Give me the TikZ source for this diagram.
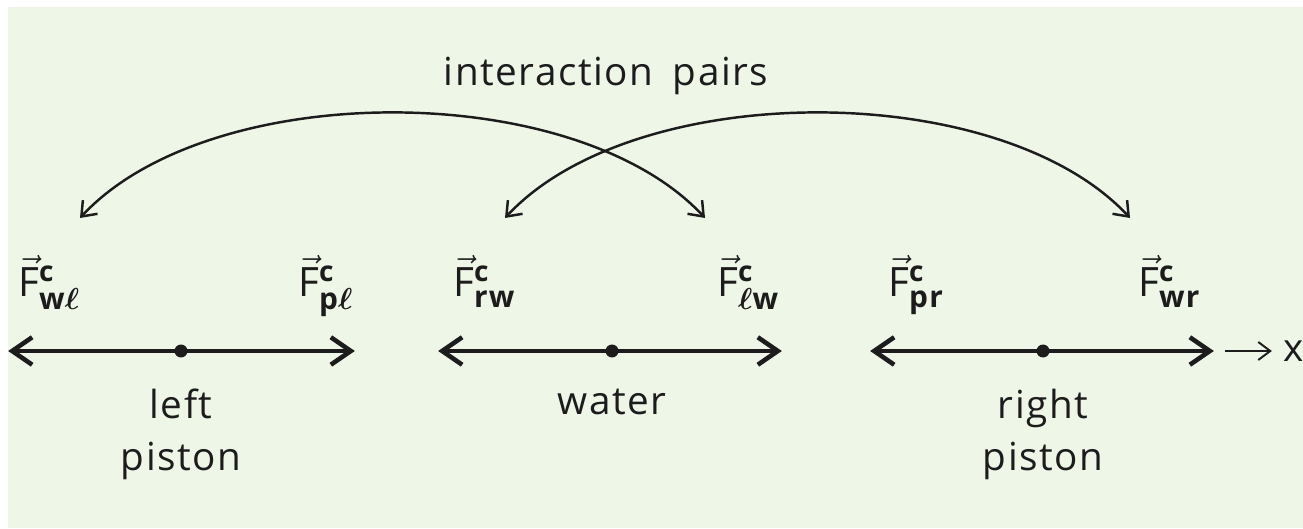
\documentclass[tikz,border=0pt]{standalone}
\usepackage{amsmath}
\usepackage{fontspec}
\setmainfont{Open Sans}[LetterSpace=4]
\setsansfont{Open Sans}[LetterSpace=4]
\usetikzlibrary{arrows.meta,positioning}
\definecolor{palegreen}{RGB}{238,246,231}
\definecolor{inkgray}{RGB}{28,28,28}
\tikzset{
  force/.style={
    -{Straight Barb[length=4mm,width=5.5mm]},
    line width=2.6pt,
    inkgray
  },
  pair/.style={
    {Straight Barb[length=2.6mm,width=4mm]}-{Straight Barb[length=2.6mm,width=4mm]},
    line width=1.4pt,
    inkgray
  },
  axis/.style={
    -{Straight Barb[length=2.4mm,width=3.6mm]},
    line width=1.1pt,
    inkgray
  },
  dot/.style={
    circle,
    fill=inkgray,
    inner sep=0pt,
    minimum size=2.6mm
  },
  flabel/.style={
    anchor=base west,
    inner sep=0pt,
    text=inkgray,
    font=\fontsize{23}{26}\selectfont
  },
  bodyname/.style={
    align=center,
    text=inkgray,
    inner sep=0pt,
    font=\fontsize{22}{29.5}\selectfont
  }
}
\newcommand{\forcevec}[1]{$\vec{\mathsf{F}}^{\mbox{\fontsize{16}{16}\selectfont\bfseries c}}_{\mbox{\fontsize{17}{17}\selectfont\bfseries #1}}$}
\newcommand{\bell}{$\boldsymbol{\ell}$}

\begin{document}
\begin{tikzpicture}[node distance=1.2cm]
\useasboundingbox (0,0) rectangle (26.06,10.56);
\fill[palegreen] (0.16,0) rectangle (26.06,10.42);
% centres of the three bodies
\node[dot] (lp) at (3.62,3.54) {};
\node[dot] (wa) at (12.24,3.54) {};
\node[dot] (rp) at (20.86,3.54) {};
\coordinate[left=3.32cm of lp] (lpl);
\coordinate[right=3.34cm of lp] (lpr);
\coordinate[left=3.34cm of wa] (wal);
\coordinate[right=3.26cm of wa] (war);
\coordinate[left=3.32cm of rp] (rpl);
\coordinate[right=3.28cm of rp] (rpr);
\draw[force] (lp.center) -- (lpl);
\draw[force] (lp.center) -- (lpr);
\draw[force] (wa.center) -- (wal);
\draw[force] (wa.center) -- (war);
\draw[force] (rp.center) -- (rpl);
\draw[force] (rp.center) -- (rpr);
% x axis
\coordinate[right=0.22cm of rpr] (xs);
\coordinate[right=1.16cm of rpr] (xe);
\draw[axis] (xs) -- (xe);
\node[text=inkgray,font=\fontsize{22}{26}\selectfont,right=0.1cm of xe] (xlab) {x};
% force labels
\node[flabel] (Fwl) at (0.36,4.62) {\forcevec{w\bell}};
\node[flabel] (Fpl) at (5.96,4.62) {\forcevec{p\bell}};
\node[flabel] (Frw) at (9.06,4.62) {\forcevec{rw}};
\node[flabel] (Flw) at (14.34,4.62) {\forcevec{\bell w}};
\node[flabel] (Fpr) at (17.76,4.62) {\forcevec{pr}};
\node[flabel] (Fwr) at (22.76,4.62) {\forcevec{wr}};
% body names
\node[bodyname,below=0.62cm of lp] (lpname) {left\\piston};
\node[bodyname,below=0.62cm of wa] (waname) {water};
\node[bodyname,below=0.62cm of rp] (rpname) {right\\piston};
% interaction pairs
\node[bodyname] (pairs) at (12.12,9.05) {interaction\enspace pairs};
\coordinate (wlTip) at (1.60,6.20);
\coordinate (lwTip) at (14.10,6.20);
\coordinate (rwTip) at (10.10,6.20);
\coordinate (wrTip) at (22.60,6.20);
\draw[pair] (wlTip) .. controls (4.2,9.0) and (11.5,9.0) .. (lwTip);
\draw[pair] (rwTip) .. controls (12.7,9.0) and (20.0,9.0) .. (wrTip);
\end{tikzpicture}
\end{document}
